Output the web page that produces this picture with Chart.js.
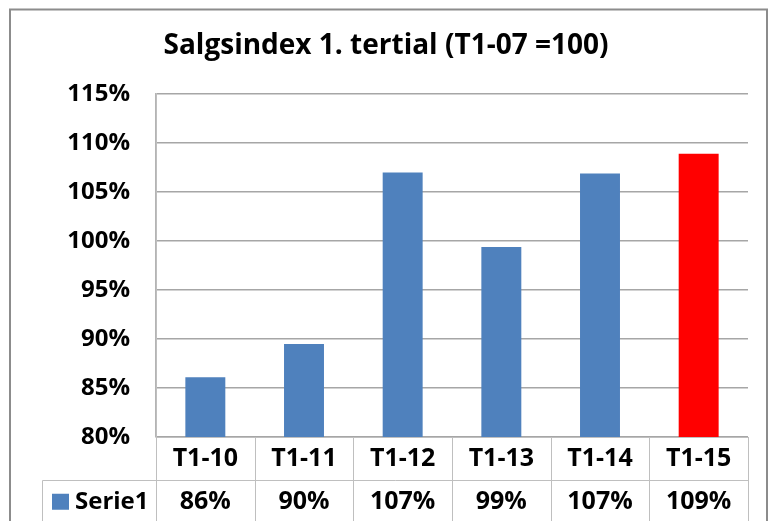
<!DOCTYPE html>
<html>
<head>
<meta charset="utf-8">
<script src="https://cdn.jsdelivr.net/npm/chart.js@4.4.1/dist/chart.umd.min.js"></script>
<style>
html,body{margin:0;padding:0;background:#fff;}
canvas{display:block;}
</style>
</head>
<body>
<canvas id="c" width="771" height="521"></canvas>
<script>
const categories = ['T1-10', 'T1-11', 'T1-12', 'T1-13', 'T1-14', 'T1-15'];
const seriesName = 'Serie1';
const values = [86.1, 89.5, 107.0, 99.4, 106.9, 108.9];
const tableLabels = ['86%', '90%', '107%', '99%', '107%', '109%'];
const barColors = ['#4f81bd', '#4f81bd', '#4f81bd', '#4f81bd', '#4f81bd', '#ff0000'];
const titleText = 'Salgsindex 1. tertial (T1-07 =100)';
const yMin = 80, yMax = 115, yStep = 5;

const FONT = "'Open Sans', 'Liberation Sans', sans-serif";
Chart.defaults.font.family = FONT;
Chart.defaults.color = '#000';

const tablePlugin = {
  id: 'dataTable',
  afterDraw(chart) {
    const ctx = chart.ctx;
    const x = chart.scales.x;
    const area = chart.chartArea;
    const n = categories.length;
    const bounds = [];
    for (let i = 0; i <= n; i++) {
      if (i === 0) bounds.push(x.left);
      else if (i === n) bounds.push(x.right);
      else bounds.push((x.getPixelForValue(i - 1) + x.getPixelForValue(i)) / 2);
    }
    const top = area.bottom;
    const rowSplit = 480.5;
    const bottom = chart.height + 2;
    const legendLeft = 42.5;
    ctx.save();
    ctx.strokeStyle = '#bfbfbf';
    ctx.lineWidth = 1;
    ctx.beginPath();
    bounds.forEach((b, i) => {
      const bx = Math.round(b) + 0.5;
      ctx.moveTo(bx, i === 0 ? area.top : top);
      ctx.lineTo(bx, bottom);
    });
    ctx.moveTo(legendLeft, rowSplit);
    ctx.lineTo(x.right, rowSplit);
    ctx.moveTo(legendLeft, rowSplit);
    ctx.lineTo(legendLeft, bottom);
    ctx.stroke();

    // values row
    ctx.fillStyle = '#000';
    ctx.font = 'bold 25px ' + FONT;
    ctx.textAlign = 'center';
    ctx.textBaseline = 'middle';
    const rowMid = (rowSplit + chart.height) / 2 + 1;
    tableLabels.forEach((t, i) => {
      ctx.fillText(t, x.getPixelForValue(i), rowMid);
    });
    // legend cell
    ctx.fillStyle = barColors[0];
    ctx.fillRect(52, rowMid - 8, 17, 16);
    ctx.fillStyle = '#000';
    ctx.textAlign = 'left';
    ctx.font = 'bold 24px ' + FONT;
    ctx.fillText(seriesName, 75, rowMid);

    // outer frame
    ctx.strokeStyle = '#8c8c8c';
    ctx.lineWidth = 2;
    ctx.strokeRect(10, 9.5, 757, 600);
    ctx.restore();
  }
};

new Chart(document.getElementById('c'), {
  type: 'bar',
  data: {
    labels: categories,
    datasets: [{
      label: seriesName,
      data: values,
      backgroundColor: barColors,
      borderWidth: 0,
      barPercentage: 0.405,
      categoryPercentage: 1.0
    }]
  },
  options: {
    responsive: false,
    animation: false,
    devicePixelRatio: 1,
    layout: { padding: { left: 24, right: 23, top: 0, bottom: 0 } },
    plugins: {
      legend: { display: false },
      tooltip: { enabled: false },
      title: {
        display: true,
        text: titleText,
        color: '#000',
        font: { family: FONT, size: 28, weight: 'bold' },
        padding: { top: 29, bottom: 31.4 }
      }
    },
    scales: {
      x: {
        grid: { display: false, drawTicks: false },
        border: { display: true, color: '#bfbfbf', width: 1 },
        ticks: {
          color: '#000',
          font: { family: FONT, size: 25, weight: 'bold' },
          padding: 7,
          maxRotation: 0,
          autoSkip: false
        },
        afterFit(s) { s.height = 84; }
      },
      y: {
        min: yMin,
        max: yMax,
        grid: { color: '#a6a6a6', lineWidth: 1.5, drawTicks: false },
        border: { display: true, color: '#b4b4b4', width: 1.5 },
        ticks: {
          stepSize: yStep,
          color: '#000',
          padding: 26,
          font: { family: FONT, size: 24, weight: 'bold' },
          callback: v => v + '%'
        },
        afterFit(s) { s.width = 132; }
      }
    }
  },
  plugins: [tablePlugin]
});
</script>
</body>
</html>
